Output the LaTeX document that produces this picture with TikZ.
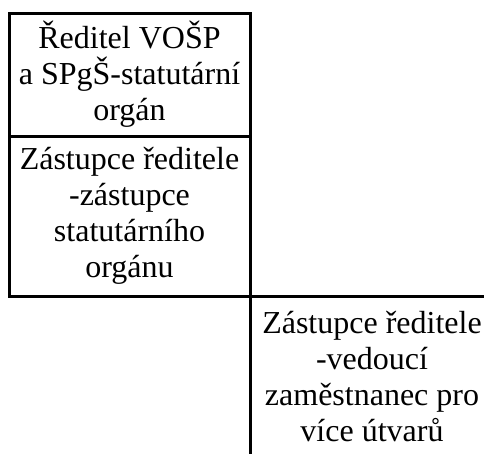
\documentclass[tikz,border=0pt]{standalone}
\usepackage{fontspec}
\setmainfont{Liberation Serif}
\usetikzlibrary{positioning}

\begin{document}
\begin{tikzpicture}[x=1pt,y=1pt,
    orgbox/.style={draw, line width=3pt, outer sep=0pt, inner sep=0pt,
      align=center, font=\fontsize{32}{36}\selectfont}]
  \useasboundingbox (0,0) rectangle (484,-453);
  \clip (0,0) rectangle (484,-453);

  \node[orgbox, minimum width=241pt, minimum height=123pt] (reditel) at (129.5,-74.5)
    {Ředitel VOŠP\\a SPgŠ-statutární\\orgán};
  \node[orgbox, minimum width=241pt, minimum height=160pt, below=0pt of reditel] (zastupce)
    {Zástupce ředitele\\-zástupce\\statutárního\\orgánu};
  \node[orgbox, minimum width=244pt, minimum height=162pt, anchor=north west] (vedouci)
    at (zastupce.south east)
    {Zástupce ředitele\\-vedoucí\\zaměstnanec pro\\více útvarů};
\end{tikzpicture}
\end{document}
